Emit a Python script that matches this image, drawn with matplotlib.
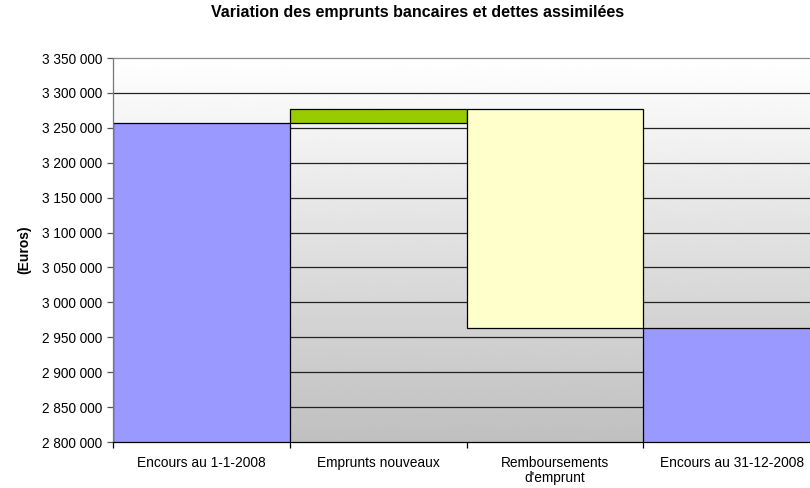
import numpy as np
import matplotlib.pyplot as plt
from matplotlib.ticker import FuncFormatter, FixedLocator

plt.rcParams["font.family"] = ["Liberation Sans", "DejaVu Sans"]

# ── Data ──────────────────────────────────────────────────────────────────────
categories = ["Encours au 1-1-2008", "Emprunts nouveaux",
              "Remboursements\nd'emprunt", "Encours au 31-12-2008"]
opening    = 3257000
new_loans  = 20000
repayments = 314000
closing    = opening + new_loans - repayments

y_min, y_max, y_step = 2800000, 3350000, 50000

# ── Figure ────────────────────────────────────────────────────────────────────
fig = plt.figure(figsize=(8.1, 4.88), dpi=100)
ax = fig.add_axes([113 / 810, 1 - 442 / 488, 707 / 810, 384 / 488])

# gray gradient background (white at top, gray at bottom)
grad = np.linspace(1.0, 0.75, 256).reshape(-1, 1)
ax.imshow(grad, cmap="gray", vmin=0, vmax=1, aspect="auto",
          extent=[0, 1, 0, 1], transform=ax.transAxes, zorder=0)

ax.set_xlim(-0.5, 3.5)
ax.set_ylim(y_min, y_max)

for y in np.arange(y_min + y_step, y_max, y_step):
    ax.axhline(y, color="#222222", linewidth=0.9, zorder=1)

x = np.arange(len(categories))
kw = dict(width=1.0, edgecolor="black", linewidth=0.9, zorder=2)
ax.bar(x[0], opening, color="#9999ff", **kw)
ax.bar(x[1], new_loans, bottom=opening, color="#99cc00", **kw)
ax.bar(x[2], repayments, bottom=closing, color="#ffffcc", **kw)
ax.bar(x[3], closing, color="#9999ff", **kw)

# ticks
ax.yaxis.set_major_locator(FixedLocator(np.arange(y_min, y_max + 1, y_step)))
ax.yaxis.set_major_formatter(FuncFormatter(lambda v, p: f"{int(v):,}".replace(",", " ")))
ax.set_xticks(x)
ax.set_xticklabels(categories, fontsize=9.9, linespacing=1.1)
ax.set_xticks(np.arange(-0.5, 3.6, 1.0), minor=True)
ax.tick_params(axis="x", which="major", length=0, pad=10)
ax.tick_params(axis="x", which="minor", length=4, width=0.9, color="black")
ax.tick_params(axis="y", length=4, width=0.9, labelsize=9.8, color="#555555")

ax.set_ylabel("(Euros)", fontsize=10, fontweight="bold", labelpad=8)
fig.text(418 / 810, 1 - 13 / 488, "Variation des emprunts bancaires et dettes assimilées",
         fontsize=11.5, fontweight="bold", ha="center", va="center")

ax.spines["top"].set_color("#888888")
ax.spines["top"].set_linewidth(0.9)
ax.spines["right"].set_visible(False)
ax.spines["left"].set_color("#777777")
ax.spines["left"].set_linewidth(0.9)
ax.spines["bottom"].set_color("black")
ax.spines["bottom"].set_linewidth(0.9)

fig.savefig("out.png", dpi=100)
